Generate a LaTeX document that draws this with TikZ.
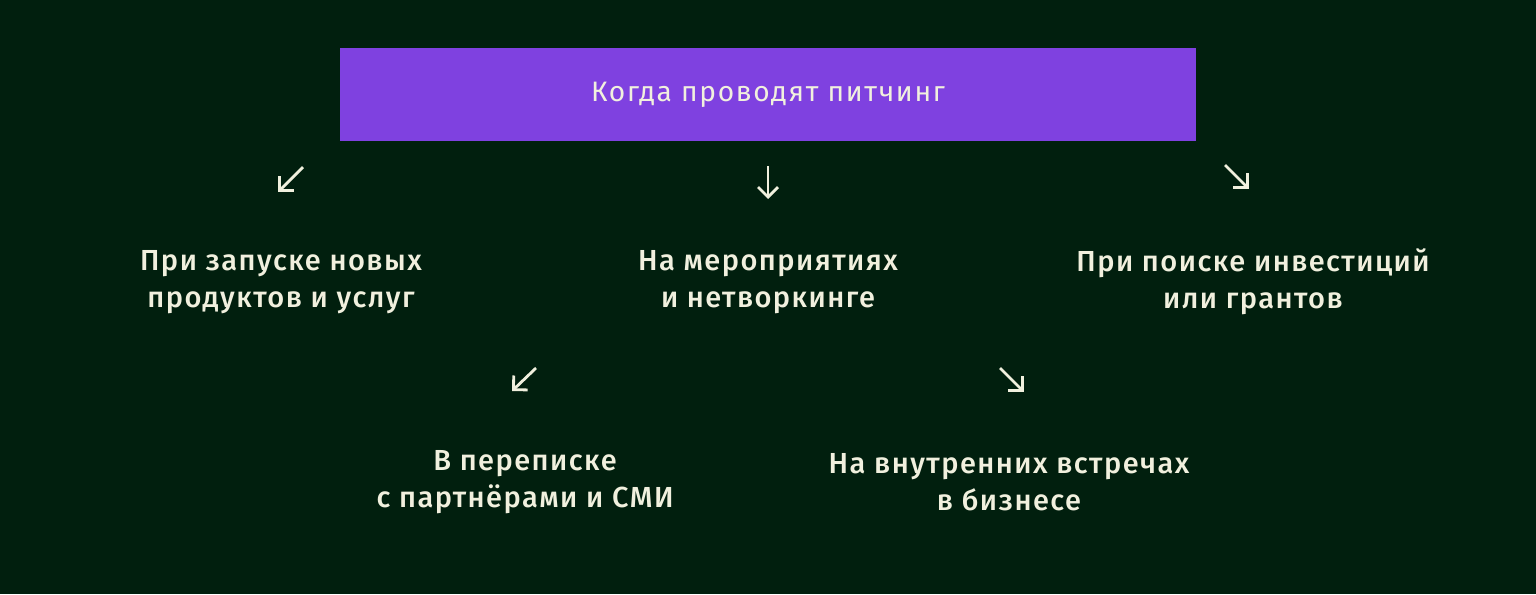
\documentclass[tikz,border=0pt]{standalone}
\usepackage{xcolor}
\usepackage{fontspec}
\setmainfont{Fira Sans}[LetterSpace=6]
\newfontfamily\itemfont{Fira Sans Medium}[LetterSpace=5]
\usetikzlibrary{positioning, arrows.meta}
\definecolor{bgdark}{RGB}{1,31,14}
\definecolor{pitchviolet}{RGB}{127,65,224}
\definecolor{cream}{RGB}{241,240,222}
\tikzset{
    titlebox/.style={
        fill = pitchviolet,
        text = cream,
        minimum width = 17.12cm,
        minimum height = 1.86cm,
        font = \fontsize{16}{21}\selectfont
    },
    pitchitem/.style = {
        text = cream,
        align = center,
        font = \itemfont\fontsize{16.5}{21}\selectfont
    },
    line/.style = {draw = cream, line width = 1.6pt, -{Straight Barb[length=0.2cm, width=0.4cm]}}
}

\begin{document}
\begin{tikzpicture}

                        % Background
                        \fill[bgdark] (0,0) rectangle (30.72,-11.88);

                        % Title
                        \node[titlebox] (title) at (15.36,-1.89) {Когда проводят питчинг};

                        % Cases
                        \node[pitchitem] (launch) at (5.62,-5.64) {При запуске новых\\продуктов и услуг};
                        \node[pitchitem] (events) at (15.36,-5.64) {На мероприятиях\\и нетворкинге};
                        \node[pitchitem] (invest) at (25.06,-5.64) {При поиске инвестиций\\или грантов};
                        \node[pitchitem] (letters) at (10.5,-9.64) {В переписке\\с партнёрами и СМИ};
                        \node[pitchitem] (meetings) at (20.18,-9.64) {На внутренних встречах\\в бизнесе};

                        % Arrow ends
                        \coordinate (a1) at (6.06,-3.34);
                        \coordinate (b1) at (5.56,-3.84);
                        \coordinate (a2) at (15.36,-3.32);
                        \coordinate (b2) at (15.36,-3.98);
                        \coordinate (a3) at (24.5,-3.3);
                        \coordinate (b3) at (24.98,-3.78);
                        \coordinate (a4) at (10.72,-7.36);
                        \coordinate (b4) at (10.24,-7.82);
                        \coordinate (a5) at (20.0,-7.36);
                        \coordinate (b5) at (20.48,-7.84);

                        % Lines
                        \draw[line] (a1) -- (b1);
                        \draw[line] (a2) -- (b2);
                        \draw[line] (a3) -- (b3);
                        \draw[line] (a4) -- (b4);
                        \draw[line] (a5) -- (b5);

                    \end{tikzpicture}
\end{document}
